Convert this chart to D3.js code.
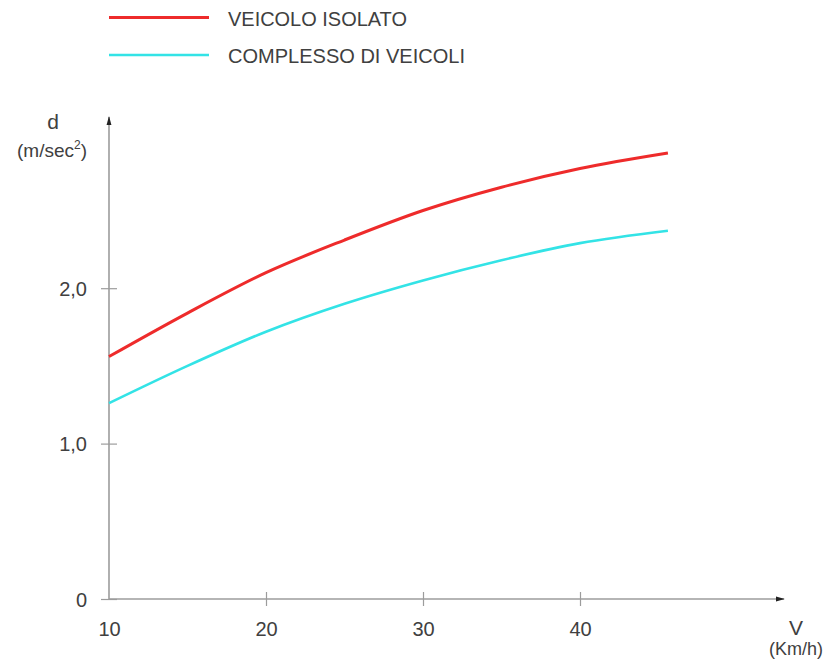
<!DOCTYPE html>
<html>
<head>
<meta charset="utf-8">
<script src="https://cdn.jsdelivr.net/npm/d3@7"></script>
<style>
  body { margin: 0; background: #fff; }
  svg { display: block; }
  text { font-family: "Liberation Sans", Arial, sans-serif; fill: #404040; }
</style>
</head>
<body>
<div id="chart"></div>
<script>
// speed (km/h) and deceleration (m/sec^2)
const speeds = [10, 15, 20, 25, 30, 35, 40, 45.6];
const isolato = [1.56, 1.84, 2.10, 2.31, 2.50, 2.65, 2.77, 2.87];
const complesso = [1.26, 1.50, 1.72, 1.90, 2.05, 2.18, 2.29, 2.37];

const xTicks = [10, 20, 30, 40];
const yTicks = [0, 1, 2];
const yTickLabels = ['0', '1,0', '2,0'];

const seriesNames = ['VEICOLO ISOLATO', 'COMPLESSO DI VEICOLI'];
const seriesColors = ['#ee2b2b', '#33e3e6'];

const width = 830;
const height = 671;

const svg = d3.select('#chart')
  .append('svg')
  .attr('width', width)
  .attr('height', height);

// scales
const x = d3.scaleLinear().domain([10, 40]).range([109, 580]);
const y = d3.scaleLinear().domain([0, 2]).range([599, 288.2]);

const axisColor = '#9c9c9c';

// arrow heads
svg.append('defs').append('marker')
  .attr('id', 'arrow')
  .attr('viewBox', '0 0 10 10')
  .attr('refX', 9)
  .attr('refY', 5)
  .attr('markerWidth', 9)
  .attr('markerHeight', 7)
  .attr('markerUnits', 'userSpaceOnUse')
  .attr('orient', 'auto')
  .attr('preserveAspectRatio', 'none')
  .append('path')
  .attr('d', 'M0,1.5 L10,5 L0,8.5 z')
  .attr('fill', '#222');

// x axis
const xAxis = svg.append('g')
  .attr('transform', `translate(0,${y(0)})`)
  .call(d3.axisBottom(x).tickValues(xTicks).tickSize(7).tickFormat(d3.format('d')));
xAxis.select('.domain').remove();
xAxis.selectAll('.tick line')
  .attr('y1', -7)
  .attr('stroke', axisColor)
  .attr('stroke-width', 1.2)
  .style('display', d => d === 10 ? 'none' : null);
xAxis.selectAll('.tick text')
  .attr('y', 37)
  .attr('dy', 0)
  .attr('font-size', 20)
  .style('fill', '#404040');

svg.append('line')
  .attr('x1', x(10)).attr('y1', y(0))
  .attr('x2', 784).attr('y2', y(0))
  .attr('stroke', axisColor)
  .attr('stroke-width', 1.6)
  .attr('marker-end', 'url(#arrow)');

// y axis
const yAxis = svg.append('g')
  .attr('transform', `translate(${x(10)},0)`)
  .call(d3.axisLeft(y).tickValues(yTicks).tickSize(8).tickFormat((d, i) => yTickLabels[i]));
yAxis.select('.domain').remove();
yAxis.selectAll('.tick line')
  .attr('x1', 8)
  .attr('stroke', axisColor)
  .attr('stroke-width', 1.2);
yAxis.selectAll('.tick text')
  .attr('x', -22)
  .attr('dy', '0.35em')
  .attr('font-size', 20)
  .style('fill', '#404040');

svg.append('line')
  .attr('x1', x(10)).attr('y1', y(0))
  .attr('x2', x(10)).attr('y2', 117)
  .attr('stroke', axisColor)
  .attr('stroke-width', 1.6)
  .attr('marker-end', 'url(#arrow)');

// axis titles
svg.append('text').attr('x', 53).attr('y', 129).attr('text-anchor', 'middle')
  .attr('font-size', 21).text('d');
const yUnit = svg.append('text').attr('x', 52).attr('y', 157).attr('text-anchor', 'middle')
  .attr('font-size', 19);
yUnit.append('tspan').text('(m/sec');
yUnit.append('tspan').attr('font-size', 12).attr('dy', -8).text('2');
yUnit.append('tspan').attr('dy', 8).text(')');

svg.append('text').attr('x', 796).attr('y', 635).attr('text-anchor', 'middle')
  .attr('font-size', 21).text('V');
svg.append('text').attr('x', 796).attr('y', 655).attr('text-anchor', 'middle')
  .attr('font-size', 18).text('(Km/h)');

// curves
const line = d3.line()
  .x((d, i) => x(speeds[i]))
  .y(d => y(d))
  .curve(d3.curveMonotoneX);

[isolato, complesso].forEach((vals, i) => {
  svg.append('path')
    .datum(vals)
    .attr('d', line)
    .attr('fill', 'none')
    .attr('stroke', seriesColors[i])
    .attr('stroke-width', i === 0 ? 3 : 2.6);
});

// legend
const legend = svg.append('g');
const legendY = [17.5, 55];
const legendWidths = [179, 237];
seriesNames.forEach((name, i) => {
  legend.append('line')
    .attr('x1', 109).attr('x2', 209)
    .attr('y1', legendY[i]).attr('y2', legendY[i])
    .attr('stroke', seriesColors[i])
    .attr('stroke-width', i === 0 ? 3 : 2.4);
  legend.append('text')
    .attr('x', 228)
    .attr('y', legendY[i] + 8)
    .attr('font-size', 21)
    .attr('textLength', legendWidths[i])
    .attr('lengthAdjust', 'spacingAndGlyphs')
    .text(name);
});
</script>
</body>
</html>
